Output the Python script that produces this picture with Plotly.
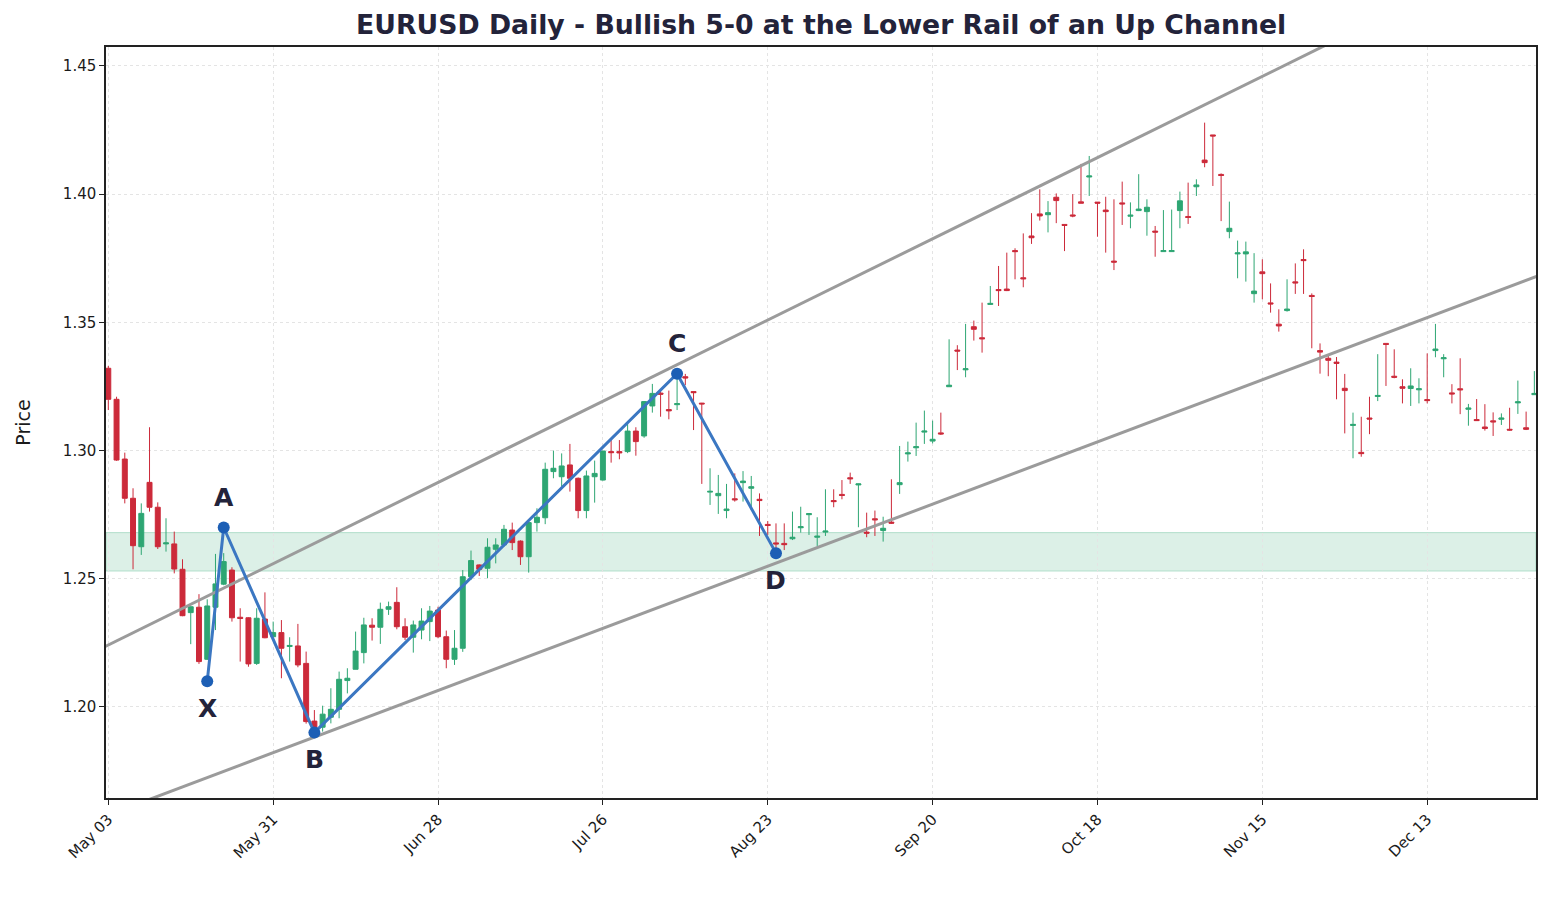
import pandas as pd
import plotly.graph_objects as go

# ---------------- data ----------------
dates = pd.bdate_range("2021-05-03", periods=174)
bar_index = list(range(len(dates)))

opens = [1.3321, 1.3200, 1.2967, 1.2814, 1.2625, 1.2876, 1.2779, 1.2636, 1.2636, 1.2537,
         1.2368, 1.2389, 1.2186, 1.2389, 1.2479, 1.2534, 1.2350, 1.2348, 1.2170, 1.2343,
         1.2274, 1.2290, 1.2236, 1.2238, 1.2170, 1.1945, 1.1921, 1.1960, 1.1991, 1.2103,
         1.2147, 1.2212, 1.2319, 1.2311, 1.2381, 1.2408, 1.2313, 1.2272, 1.2300, 1.2333,
         1.2378, 1.2274, 1.2186, 1.2229, 1.2508, 1.2554, 1.2541, 1.2615, 1.2632, 1.2690,
         1.2647, 1.2586, 1.2719, 1.2738, 1.2918, 1.2898, 1.2944, 1.2892, 1.2766, 1.2898,
         1.2885, 1.2996, 1.2996, 1.2996, 1.3076, 1.3057, 1.3174, 1.3224, 1.3160, 1.3179,
         1.3288, 1.3230, 1.3185, 1.2838, 1.2824, 1.2766, 1.2812, 1.2875, 1.2853, 1.2810,
         1.2712, 1.2640, 1.2638, 1.2656, 1.2699, 1.2750, 1.2662, 1.2682, 1.2805, 1.2829,
         1.2894, 1.2866, 1.2682, 1.2734, 1.2688, 1.2721, 1.2867, 1.2987, 1.3011, 1.3072,
         1.3037, 1.3069, 1.3249, 1.3392, 1.3315, 1.3483, 1.3440, 1.3570, 1.3628, 1.3630,
         1.3780, 1.3674, 1.3837, 1.3923, 1.3920, 1.3988, 1.3882, 1.3919, 1.3970, 1.4067,
         1.3969, 1.3938, 1.3739, 1.3966, 1.3914, 1.3936, 1.3932, 1.3856, 1.3776, 1.3776,
         1.3936, 1.3913, 1.4029, 1.4133, 1.4231, 1.4077, 1.3854, 1.3767, 1.3767, 1.3612,
         1.3697, 1.3576, 1.3493, 1.3546, 1.3658, 1.3745, 1.3605, 1.3390, 1.3360, 1.3345,
         1.3243, 1.3098, 1.2993, 1.3127, 1.3211, 1.3418, 1.3290, 1.3249, 1.3242, 1.3237,
         1.3199, 1.3390, 1.3358, 1.3225, 1.3241, 1.3161, 1.3121, 1.3092, 1.3116, 1.3122,
         1.3083, 1.3186, 1.3089, 1.3218]
highs = [1.3330, 1.3210, 1.2992, 1.2853, 1.2794, 1.3091, 1.2798, 1.2736, 1.2684, 1.2576,
         1.2392, 1.2440, 1.2420, 1.2597, 1.2600, 1.2545, 1.2385, 1.2350, 1.2385, 1.2447,
         1.2333, 1.2339, 1.2272, 1.2324, 1.2216, 1.1988, 1.2005, 1.2073, 1.2138, 1.2151,
         1.2294, 1.2348, 1.2346, 1.2407, 1.2411, 1.2467, 1.2346, 1.2337, 1.2385, 1.2394,
         1.2391, 1.2298, 1.2300, 1.2534, 1.2610, 1.2556, 1.2658, 1.2658, 1.2710, 1.2719,
         1.2650, 1.2723, 1.2775, 1.2953, 1.3000, 1.2989, 1.3026, 1.2895, 1.2922, 1.2961,
         1.3000, 1.3041, 1.3041, 1.3104, 1.3091, 1.3193, 1.3260, 1.3234, 1.3234, 1.3290,
         1.3299, 1.3231, 1.3186, 1.2931, 1.2905, 1.2870, 1.2911, 1.2920, 1.2901, 1.2833,
         1.2725, 1.2716, 1.2716, 1.2762, 1.2781, 1.2756, 1.2740, 1.2849, 1.2849, 1.2885,
         1.2914, 1.2871, 1.2758, 1.2766, 1.2742, 1.2888, 1.3018, 1.3035, 1.3109, 1.3156,
         1.3117, 1.3148, 1.3434, 1.3411, 1.3494, 1.3507, 1.3577, 1.3642, 1.3720, 1.3772,
         1.3789, 1.3847, 1.3926, 1.4019, 1.3973, 1.4003, 1.3882, 1.4000, 1.4118, 1.4149,
         1.3969, 1.3990, 1.3980, 1.4049, 1.3968, 1.4078, 1.3980, 1.3876, 1.3938, 1.3940,
         1.4010, 1.4045, 1.4058, 1.4279, 1.4231, 1.4081, 1.3971, 1.3819, 1.3815, 1.3770,
         1.3746, 1.3652, 1.3551, 1.3668, 1.3730, 1.3785, 1.3613, 1.3418, 1.3375, 1.3365,
         1.3299, 1.3148, 1.3132, 1.3210, 1.3376, 1.3418, 1.3395, 1.3278, 1.3321, 1.3282,
         1.3379, 1.3494, 1.3376, 1.3259, 1.3360, 1.3182, 1.3201, 1.3181, 1.3149, 1.3145,
         1.3167, 1.3273, 1.3152, 1.3310]
lows = [1.3158, 1.2960, 1.2794, 1.2537, 1.2593, 1.2762, 1.2616, 1.2606, 1.2521, 1.2354,
        1.2245, 1.2168, 1.2184, 1.2300, 1.2475, 1.2333, 1.2177, 1.2157, 1.2164, 1.2268,
        1.2273, 1.2112, 1.2177, 1.2155, 1.1935, 1.1895, 1.1904, 1.1936, 1.1956, 1.2053,
        1.2147, 1.2170, 1.2259, 1.2246, 1.2359, 1.2303, 1.2261, 1.2212, 1.2264, 1.2257,
        1.2268, 1.2151, 1.2164, 1.2215, 1.2495, 1.2511, 1.2502, 1.2560, 1.2625, 1.2612,
        1.2554, 1.2524, 1.2684, 1.2713, 1.2892, 1.2859, 1.2840, 1.2736, 1.2736, 1.2797,
        1.2883, 1.2953, 1.2966, 1.2990, 1.2980, 1.3050, 1.3148, 1.3132, 1.3122, 1.3158,
        1.3255, 1.3080, 1.2870, 1.2788, 1.2753, 1.2736, 1.2801, 1.2801, 1.2768, 1.2667,
        1.2671, 1.2600, 1.2612, 1.2651, 1.2680, 1.2671, 1.2628, 1.2667, 1.2779, 1.2810,
        1.2870, 1.2701, 1.2662, 1.2667, 1.2645, 1.2714, 1.2831, 1.2957, 1.2979, 1.3026,
        1.3028, 1.3061, 1.3249, 1.3314, 1.3286, 1.3429, 1.3382, 1.3568, 1.3564, 1.3622,
        1.3668, 1.3637, 1.3806, 1.3897, 1.3851, 1.3887, 1.3778, 1.3910, 1.3965, 1.3993,
        1.3834, 1.3772, 1.3704, 1.3880, 1.3867, 1.3934, 1.3838, 1.3756, 1.3776, 1.3776,
        1.3867, 1.3884, 1.3993, 1.4105, 1.4032, 1.3895, 1.3828, 1.3672, 1.3659, 1.3577,
        1.3590, 1.3538, 1.3464, 1.3542, 1.3611, 1.3611, 1.3399, 1.3300, 1.3290, 1.3200,
        1.3067, 1.2970, 1.2976, 1.3064, 1.3193, 1.3252, 1.3282, 1.3184, 1.3174, 1.3184,
        1.3184, 1.3364, 1.3286, 1.3184, 1.3142, 1.3097, 1.3116, 1.3078, 1.3057, 1.3100,
        1.3078, 1.3143, 1.3080, 1.3218]
closes = [1.3200, 1.2963, 1.2814, 1.2629, 1.2755, 1.2779, 1.2625, 1.2640, 1.2538, 1.2356,
          1.2391, 1.2177, 1.2394, 1.2480, 1.2567, 1.2348, 1.2345, 1.2168, 1.2346, 1.2270,
          1.2290, 1.2229, 1.2240, 1.2164, 1.1943, 1.1904, 1.1972, 1.1991, 1.2108, 1.2112,
          1.2218, 1.2320, 1.2311, 1.2381, 1.2391, 1.2313, 1.2272, 1.2320, 1.2335, 1.2374,
          1.2274, 1.2186, 1.2229, 1.2508, 1.2571, 1.2537, 1.2623, 1.2632, 1.2693, 1.2641,
          1.2586, 1.2719, 1.2740, 1.2927, 1.2931, 1.2940, 1.2892, 1.2766, 1.2901, 1.2911,
          1.2998, 1.2992, 1.2991, 1.3076, 1.3035, 1.3191, 1.3223, 1.3220, 1.3155, 1.3183,
          1.3283, 1.3226, 1.3182, 1.2841, 1.2833, 1.2772, 1.2808, 1.2881, 1.2859, 1.2805,
          1.2708, 1.2636, 1.2633, 1.2662, 1.2703, 1.2754, 1.2666, 1.2686, 1.2801, 1.2825,
          1.2890, 1.2870, 1.2678, 1.2730, 1.2697, 1.2717, 1.2875, 1.2991, 1.3015, 1.3076,
          1.3044, 1.3065, 1.3255, 1.3388, 1.3319, 1.3473, 1.3436, 1.3574, 1.3624, 1.3624,
          1.3776, 1.3670, 1.3830, 1.3915, 1.3928, 1.3975, 1.3878, 1.3915, 1.3965, 1.4071,
          1.3965, 1.3932, 1.3735, 1.3962, 1.3918, 1.3942, 1.3949, 1.3852, 1.3780, 1.3780,
          1.3974, 1.3909, 1.4036, 1.4123, 1.4227, 1.4073, 1.3867, 1.3771, 1.3775, 1.3622,
          1.3690, 1.3572, 1.3486, 1.3552, 1.3654, 1.3741, 1.3601, 1.3384, 1.3352, 1.3340,
          1.3234, 1.3102, 1.2988, 1.3123, 1.3215, 1.3414, 1.3286, 1.3243, 1.3252, 1.3241,
          1.3195, 1.3396, 1.3362, 1.3221, 1.3237, 1.3166, 1.3117, 1.3086, 1.3112, 1.3127,
          1.3080, 1.3190, 1.3083, 1.3223]

# x-axis labels every 20 trading days
tick_positions = [0, 20, 40, 60, 80, 100, 120, 140, 160]
tick_labels = ["May 03", "May 31", "Jun 28", "Jul 26", "Aug 23",
               "Sep 20", "Oct 18", "Nov 15", "Dec 13"]
y_ticks = [1.20, 1.25, 1.30, 1.35, 1.40, 1.45]

# 5-0 pattern points
pattern_labels = ["X", "A", "B", "C", "D"]
pattern_x = [12, 14, 25, 69, 81]
pattern_y = [1.21, 1.27, 1.19, 1.33, 1.26]
label_side = [-1, 1, -1, 1, -1]   # -1 below, +1 above

# channel rails (values at the chart's left/right extents)
channel_x = [-1, 175]
upper_rail = [1.2226, 1.5014]
lower_rail = [1.1567, 1.3700]

# reaction zone
zone_low, zone_high = 1.2530, 1.2680

GREEN = "#2ea673"
RED = "#cc2a3a"
INK = "#23233a"

fig = go.Figure()

fig.add_trace(go.Candlestick(
    x=bar_index, open=opens, high=highs, low=lows, close=closes,
    increasing=dict(line=dict(color=GREEN, width=1), fillcolor=GREEN),
    decreasing=dict(line=dict(color=RED, width=1), fillcolor=RED),
    whiskerwidth=0, showlegend=False, hoverinfo="skip",
))

fig.add_trace(go.Scatter(x=channel_x, y=upper_rail, mode="lines",
                         line=dict(color="#9b9b9b", width=3), showlegend=False, hoverinfo="skip"))
fig.add_trace(go.Scatter(x=channel_x, y=lower_rail, mode="lines",
                         line=dict(color="#9b9b9b", width=3), showlegend=False, hoverinfo="skip"))

fig.add_trace(go.Scatter(x=pattern_x, y=pattern_y, mode="lines+markers",
                         line=dict(color="#3b77c2", width=3),
                         marker=dict(color="#1d5fb5", size=12),
                         showlegend=False, hoverinfo="skip"))

for lab, px, py, side in zip(pattern_labels, pattern_x, pattern_y, label_side):
    fig.add_annotation(x=px, y=py, text=f"<b>{lab}</b>", showarrow=False,
                       yshift=(30 if side > 0 else -27), font=dict(size=25, color=INK,
                                                   family="DejaVu Sans"))

fig.add_shape(type="rect", xref="paper", yref="y", x0=0, x1=1,
              y0=zone_low, y1=zone_high, layer="below",
              fillcolor="rgba(46,166,115,0.17)",
              line=dict(color="rgba(46,166,115,0.30)", width=1))

fig.update_layout(
    width=1552, height=897,
    margin=dict(l=106, r=16, t=47, b=99),
    paper_bgcolor="white", plot_bgcolor="white",
    font=dict(family="DejaVu Sans", size=15, color="#1a1a1a"),
    title=dict(text="<b>EURUSD Daily - Bullish 5-0 at the Lower Rail of an Up Channel</b>",
               x=0.5291, xanchor="center", y=0.972, yanchor="middle",
               font=dict(size=26.7, color=INK, family="DejaVu Sans")),
    boxgap=0.4, boxgroupgap=0,
    xaxis=dict(range=[-0.28, 173.2], tickmode="array", tickvals=tick_positions,
               ticktext=tick_labels, tickangle=-45, ticks="outside", ticklen=5,
               tickcolor="#222", showline=True, linecolor="#222", linewidth=1.5,
               mirror=True, showgrid=True, gridcolor="#e4e4e4", griddash="dot",
               gridwidth=1, zeroline=False, rangeslider=dict(visible=False),
               tickfont=dict(size=15)),
    yaxis=dict(range=[1.1645, 1.4574], tickmode="array", tickvals=y_ticks,
               tickformat=".2f", ticks="outside", ticklen=5, tickcolor="#222",
               showline=True, linecolor="#222", linewidth=1.5, mirror=True,
               showgrid=True, gridcolor="#e4e4e4", griddash="dot", gridwidth=1,
               zeroline=False, tickfont=dict(size=15),
               title=dict(text="Price", standoff=27, font=dict(size=19))),
)

fig.write_html("out.html")
